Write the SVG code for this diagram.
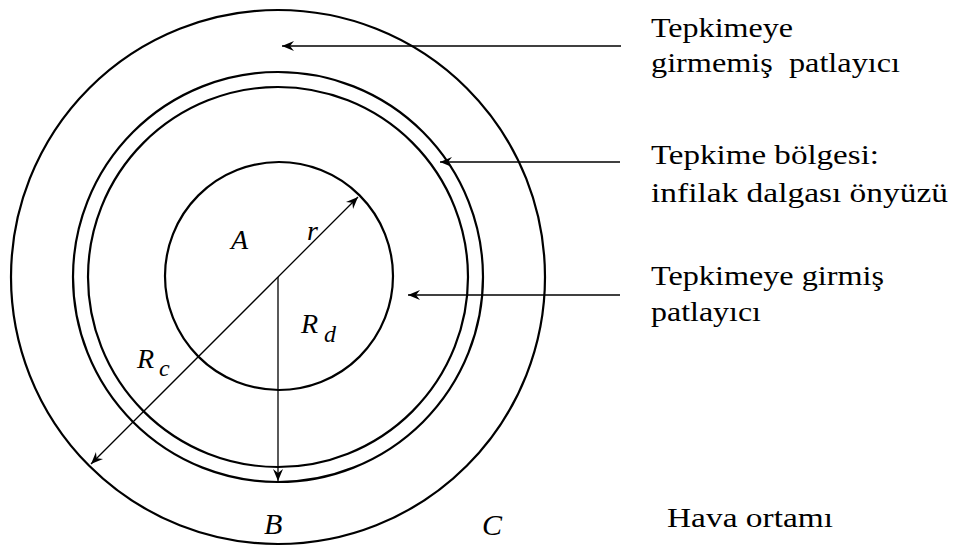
<svg xmlns="http://www.w3.org/2000/svg" width="956" height="547" viewBox="0 0 956 547">
<style>
.ring{fill:none;stroke:#000;stroke-width:2.2}
.con{fill:none;stroke:#000;stroke-width:1.3}
.lbl{font-family:"Liberation Serif","Times New Roman",serif;font-size:28px;fill:#000}
.math{font-family:"Liberation Serif","Times New Roman",serif;font-style:italic;fill:#000}
</style>
<defs>
<marker id="ah" markerWidth="14" markerHeight="12" viewBox="-13 -6 14 12" refX="0" refY="0" orient="auto-start-reverse" markerUnits="userSpaceOnUse">
<path d="M0,0 L-12,-5 L-8,0 L-12,5 Z" fill="#000"/>
</marker>
</defs>
<rect width="956" height="547" fill="#fff"/>
<g id="outer-ring"><circle class="ring" cx="278" cy="277" r="267"/></g>
<g id="reaction-outer"><circle class="ring" cx="278" cy="277" r="205"/></g>
<g id="reaction-inner"><circle class="ring" cx="278" cy="277" r="190"/></g>
<g id="core"><circle class="ring" cx="279" cy="276" r="114"/></g>
<g id="connectors">
<line class="con" x1="621" y1="46" x2="282" y2="46" marker-end="url(#ah)"/>
<line class="con" x1="620" y1="162" x2="440" y2="162" marker-end="url(#ah)"/>
<line class="con" x1="620" y1="295" x2="408" y2="295" marker-end="url(#ah)"/>
<line class="con" x1="91" y1="464" x2="358" y2="197" marker-start="url(#ah)" marker-end="url(#ah)"/>
<line class="con" x1="278" y1="277" x2="278" y2="481" marker-end="url(#ah)"/>
</g>
<g id="label-unreacted">
<text class="lbl" x="651" y="37" textLength="142" lengthAdjust="spacingAndGlyphs">Tepkimeye</text>
<text class="lbl" x="651" y="72" textLength="249" lengthAdjust="spacingAndGlyphs" xml:space="preserve">girmemiş  patlayıcı</text>
</g>
<g id="label-reaction">
<text class="lbl" x="651" y="164" textLength="228" lengthAdjust="spacingAndGlyphs">Tepkime bölgesi:</text>
<text class="lbl" x="651" y="202" textLength="297" lengthAdjust="spacingAndGlyphs">infilak dalgası önyüzü</text>
</g>
<g id="label-reacted">
<text class="lbl" x="651" y="285" textLength="233" lengthAdjust="spacingAndGlyphs">Tepkimeye girmiş</text>
<text class="lbl" x="651" y="321" textLength="110" lengthAdjust="spacingAndGlyphs">patlayıcı</text>
</g>
<g id="label-air">
<text class="lbl" x="667" y="527" textLength="166" lengthAdjust="spacingAndGlyphs">Hava ortamı</text>
</g>
<g id="math-labels">
<text class="math" x="231" y="249" font-size="28">A</text>
<text class="math" x="307" y="240" font-size="28">r</text>
<text class="math" x="301" y="333" font-size="28">R</text>
<text class="math" x="324" y="342" font-size="24">d</text>
<text class="math" x="137" y="368" font-size="28">R</text>
<text class="math" x="159" y="376" font-size="24">c</text>
<text class="math" x="264" y="534" font-size="30">B</text>
<text class="math" x="482" y="535" font-size="30">C</text>
</g>
</svg>
